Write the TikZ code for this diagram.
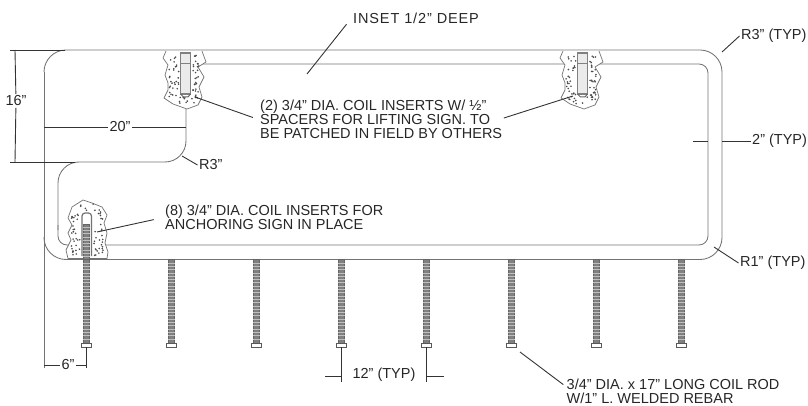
\documentclass[tikz,border=0pt]{standalone}
\usepackage{fontspec}
\setmainfont{Liberation Sans}
\tikzset{
	edgeline/.style={draw=black!55,line width=0.85pt},
	dimline/.style={draw=black!80,line width=0.9pt},
	patch/.style={draw=black!55,line width=0.7pt,fill=white},
	label/.style={font=\fontsize{14.5}{13.7}\selectfont,text=black!85,inner sep=1.5pt,align=left},
}
\begin{document}
\begin{tikzpicture}[x=1pt,y=-1pt]
	\useasboundingbox (0,0) rectangle (808,406);
	\pgfmathsetseed{41}

	\node[label,anchor=west] (inset) at (351.5,18) {\addfontfeatures{LetterSpace=6}INSET 1/2” DEEP};
	\node[label,anchor=west] (typr3) at (739.5,36) {R3” (TYP)};
	\node[label,anchor=west] (typ2) at (750.5,141) {2” (TYP)};
	\node[label,anchor=west] (typr1) at (738.5,263) {R1” (TYP)};
	\node[label,anchor=west] (lift) at (258.5,119.5) {(2) 3/4” DIA. COIL INSERTS W/ ½”\\SPACERS FOR LIFTING SIGN. TO\\BE PATCHED IN FIELD BY OTHERS};
	\node[label,anchor=west] (anchorage) at (163.5,217.5) {(8) 3/4” DIA. COIL INSERTS FOR\\ANCHORING SIGN IN PLACE};
	\node[label,anchor=west] (notch) at (197.5,165) {R3”};
	\node[label] (sixteen) at (16,101) {16”};
	\node[label] (twenty) at (120,127) {20”};
	\node[label] (six) at (68,365) {6”};
	\node[label] (twelve) at (384,375) {12” (TYP)};
	\node[label,anchor=west,inner sep=0pt] (rod) at (566.5,391.5) {3/4” DIA. x 17” LONG COIL ROD\\W/1” L. WELDED REBAR};

	\draw[edgeline] (44,368) -- (44,72);
	\draw[edgeline,rounded corners=22pt] (44,72) -- (44,50) -- (722,50) -- (722,259.5) -- (44,259.5) -- (44,237);
	\draw[edgeline,rounded corners=9pt] (186,64) -- (708,64) -- (708,245) -- (58,245) -- (58,225);
	\draw[edgeline,rounded corners=21pt] (58,230) -- (58,162) -- (186,162) -- (186,105);

	\foreach \patchx in {0,397} {
		\begin{scope}[xshift=\patchx pt]
			\draw[patch] (166,51) -- (163,58) -- (168,65) -- (165,75) -- (168,83) -- (168,90) -- (164,98) -- (173,104) -- (187,109) -- (198,105) -- (202,97) -- (199,87) -- (204,77) -- (198,67) -- (206,62) -- (202,51);
			\foreach \i in {1,...,30} {
				\fill[black!70] (169+10*rnd,54+46*rnd) circle (0.9pt);
				\fill[black!70] (193+6*rnd,54+46*rnd) circle (0.9pt);
			}
			\foreach \i in {1,...,10}
				\fill[black!70] (176+20*rnd,97+7*rnd) circle (0.9pt);
			\draw[draw=black!50,fill=black!8,line width=1.4pt] (180.5,53) rectangle (190.5,94);
			\draw[draw=black!50,line width=0.7pt] (180.5,63) -- (190.5,63);
			\draw[draw=black!60,line width=1pt] (180.5,94) -- (183.5,97) -- (188,97) -- (190.5,94);
		\end{scope}
	}

	\draw[patch] (83,200) -- (72,207) -- (68,218) -- (72,225) -- (68,233) -- (71,240) -- (66,250) -- (68,258.5) -- (107,258.5) -- (108,252) -- (105,243) -- (107,233) -- (104,223) -- (107,215) -- (102,207) -- (92,203) -- cycle;
	\foreach \i in {1,...,30} {
		\fill[black!70] (71+9*rnd,209+47*rnd) circle (0.9pt);
		\fill[black!70] (94+9*rnd,209+47*rnd) circle (0.9pt);
	}
	\foreach \i in {1,...,6}
		\fill[black!70] (80+16*rnd,204+7*rnd) circle (0.9pt);
	\draw[draw=black!55,fill=white,line width=1.2pt,rounded corners=3pt] (82,256) -- (82,213) -- (91.5,213) -- (91.5,256);

	\foreach \rodx in {86,171,256,341,426,511,596,681} {
		\draw[draw=black!60,fill=black!50,line width=0.5pt] (\rodx-3,259.5) rectangle (\rodx+3.5,343);
		\foreach \ticky in {263,266.3,...,342}
			\draw[draw=white!75!black,line width=0.8pt] (\rodx-3,\ticky) -- (\rodx+3.5,\ticky);
		\draw[draw=black!65,fill=white,line width=0.8pt] (\rodx-4.5,343) rectangle (\rodx+5,347);
	}
	\draw[draw=black!60,fill=black!50,line width=0.5pt] (83,224) rectangle (89.5,259.5);
	\foreach \ticky in {227,230.3,...,258}
		\draw[draw=white!75!black,line width=0.8pt] (83,\ticky) -- (89.5,\ticky);

	\coordinate (insettip) at (307,74);
	\coordinate (typr3tip) at (722,52);
	\coordinate (typr1tip) at (714,247);
	\coordinate (notchtip) at (182,156);
	\coordinate (liftleft) at (195,97);
	\coordinate (liftright) at (573,96);
	\coordinate (anchortip) at (97,232);
	\coordinate (rodtip) at (520,352);
	\draw[dimline,shorten <=8pt] (inset.west) -- (insettip);
	\draw[dimline] (typr3.west) -- (typr3tip);
	\draw[dimline] (typr1.west) -- (typr1tip);
	\draw[dimline] (notch.west) -- (notchtip);
	\draw[dimline,shorten <=6pt] (lift.west) -- (liftleft);
	\draw[dimline] (lift.east |- 0,118) -- (liftright);
	\draw[dimline,shorten <=10pt] (anchorage.west) -- (anchortip);
	\draw[dimline,shorten <=4pt] (rod.west |- 0,387) -- (rodtip);

	\coordinate (sixteentop) at (15,50);
	\coordinate (sixteenbot) at (15,162);
	\draw[dimline] (10,50) -- (65,50);
	\draw[dimline] (10,162) -- (75,162);
	\draw[dimline] (sixteentop) -- (sixteen);
	\draw[dimline] (sixteen) -- (sixteenbot);
	\draw[dimline] (44,127) -- (twenty);
	\draw[dimline] (twenty) -- (186,127);
	\draw[dimline] (44,365) -- (six);
	\draw[dimline] (six) -- (86,365);
	\draw[dimline] (86,347) -- (86,368);
	\draw[dimline] (341,347) -- (341,382);
	\draw[dimline] (426,347) -- (426,382);
	\draw[dimline] (325,376) -- (341,376);
	\draw[dimline] (426,376) -- (444,376);
	\draw[dimline] (693,141) -- (708,141);
	\draw[dimline] (722,141) -- (typ2.west);
\end{tikzpicture}
\end{document}
